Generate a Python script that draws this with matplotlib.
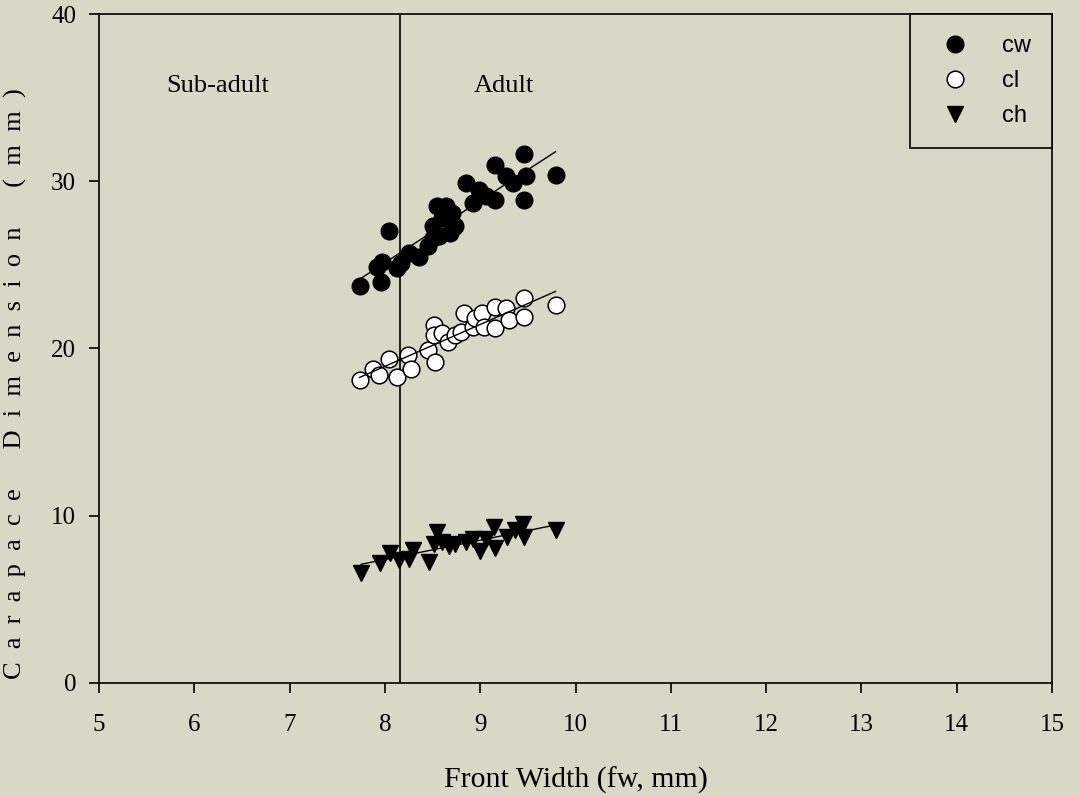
import numpy as np
import matplotlib
matplotlib.use("Agg")
import matplotlib.pyplot as plt

# ---- data ----
cw_x = [7.74, 7.92, 7.96, 7.97, 8.04, 8.13, 8.17, 8.25, 8.36, 8.45, 8.50, 8.50, 8.55, 8.57,
        8.60, 8.64, 8.68, 8.70, 8.74, 8.85, 8.92, 8.99, 9.06, 9.15, 9.15, 9.27, 9.34, 9.46,
        9.48, 9.46, 9.79]
cw_y = [23.75, 24.9, 24.0, 25.2, 27.0, 24.8, 25.1, 25.7, 25.5, 26.1, 27.3, 26.6, 28.5, 26.7,
        27.8, 28.5, 26.9, 28.1, 27.3, 29.9, 28.7, 29.5, 29.1, 31.0, 28.9, 30.3, 29.9, 31.6,
        30.3, 28.9, 30.4]

cl_x = [7.735, 7.87, 7.94, 8.04, 8.13, 8.24, 8.27, 8.45, 8.53, 8.52, 8.52, 8.60, 8.66, 8.73,
        8.80, 8.83, 8.92, 8.95, 9.02, 9.04, 9.15, 9.15, 9.27, 9.30, 9.46, 9.46, 9.79]
cl_y = [18.1, 18.8, 18.4, 19.4, 18.3, 19.6, 18.8, 19.9, 19.2, 21.4, 20.8, 20.9, 20.4, 20.8,
        21.0, 22.1, 21.3, 21.8, 22.1, 21.3, 21.2, 22.5, 22.4, 21.7, 23.0, 21.9, 22.6]

ch_x = [7.75, 7.95, 8.05, 8.15, 8.25, 8.29, 8.46, 8.52, 8.55, 8.60, 8.67, 8.73, 8.85, 8.92,
        9.00, 9.06, 9.14, 9.15, 9.28, 9.37, 9.45, 9.46, 9.79]
ch_y = [6.6, 7.2, 7.8, 7.35, 7.4, 7.95, 7.25, 8.3, 9.05, 8.4, 8.2, 8.3, 8.45, 8.6,
        7.9, 8.6, 9.3, 8.1, 8.7, 9.15, 9.5, 8.7, 9.15]

series_labels = ["cw", "cl", "ch"]
split_x = 8.16
stage_labels = ["Sub-adult", "Adult"]
xticks = [5, 6, 7, 8, 9, 10, 11, 12, 13, 14, 15]
yticks = [0, 10, 20, 30, 40]

bg = "#d8d8c6"
serif = ["Liberation Serif", "DejaVu Serif"]
sans = ["Liberation Sans", "DejaVu Sans"]

fig = plt.figure(figsize=(10.8, 7.96), dpi=100, facecolor=bg)
ax = fig.add_axes([0.0917, 0.142, 0.8824, 0.8404], facecolor=bg)

ms = 12
ax.plot(cw_x, cw_y, "o", color="black", markersize=ms, markeredgewidth=1.0,
        linestyle="none", label=series_labels[0], zorder=3)
ax.plot(cl_x, cl_y, "o", markerfacecolor="white", markeredgecolor="black",
        markersize=ms, markeredgewidth=1.1, linestyle="none", label=series_labels[1], zorder=3)
ax.plot(ch_x, ch_y, "v", color="black", markersize=11.5, markeredgewidth=1.0,
        linestyle="none", label=series_labels[2], zorder=3)

for xs, ys in [(cw_x, cw_y), (cl_x, cl_y), (ch_x, ch_y)]:
    xs = np.asarray(xs); ys = np.asarray(ys)
    m, b = np.polyfit(xs, ys, 1)
    xx = np.array([xs.min(), xs.max()])
    ax.plot(xx, m * xx + b, color="black", linewidth=1.0, zorder=4)

ax.axvline(split_x, color="black", linewidth=1.2, zorder=2)
ax.text(6.24, 35.7, stage_labels[0], ha="center", va="center", fontsize=19, family=serif)
ax.text(9.25, 35.7, stage_labels[1], ha="center", va="center", fontsize=19, family=serif)

ax.set_xlim(5, 15)
ax.set_ylim(0, 40)
ax.set_xticks(xticks)
ax.set_yticks(yticks)
ax.tick_params(direction="out", length=7.5, width=1.2, labelsize=18)
ax.tick_params(axis="x", pad=15)
ax.tick_params(axis="y", pad=9)
for lab in ax.get_xticklabels() + ax.get_yticklabels():
    lab.set_family(serif)
for s in ax.spines.values():
    s.set_linewidth(1.2)
    s.set_color("black")

ax.set_xlabel("Front Width (fw, mm)", fontsize=21.5, family=serif, labelpad=22)
fig.text(0.0145, 0.5176,
         "C  a  r  a  p  a  c  e      D  i  m  e  n  s  i  o  n      (  m  m  )",
         rotation=90, ha="center", va="center", fontsize=19, family=serif)

leg = ax.legend(loc="upper right", bbox_to_anchor=(1.0, 1.0), borderaxespad=0,
                frameon=True, fancybox=False,
                edgecolor="black", facecolor=bg, framealpha=1.0,
                prop={"family": sans, "size": 17},
                markerscale=1.0, handletextpad=1.0, labelspacing=0.55,
                borderpad=0.9, handlelength=2.0, numpoints=1)
leg.get_frame().set_linewidth(1.2)

fig.savefig("out.png", dpi=100, facecolor=bg)
